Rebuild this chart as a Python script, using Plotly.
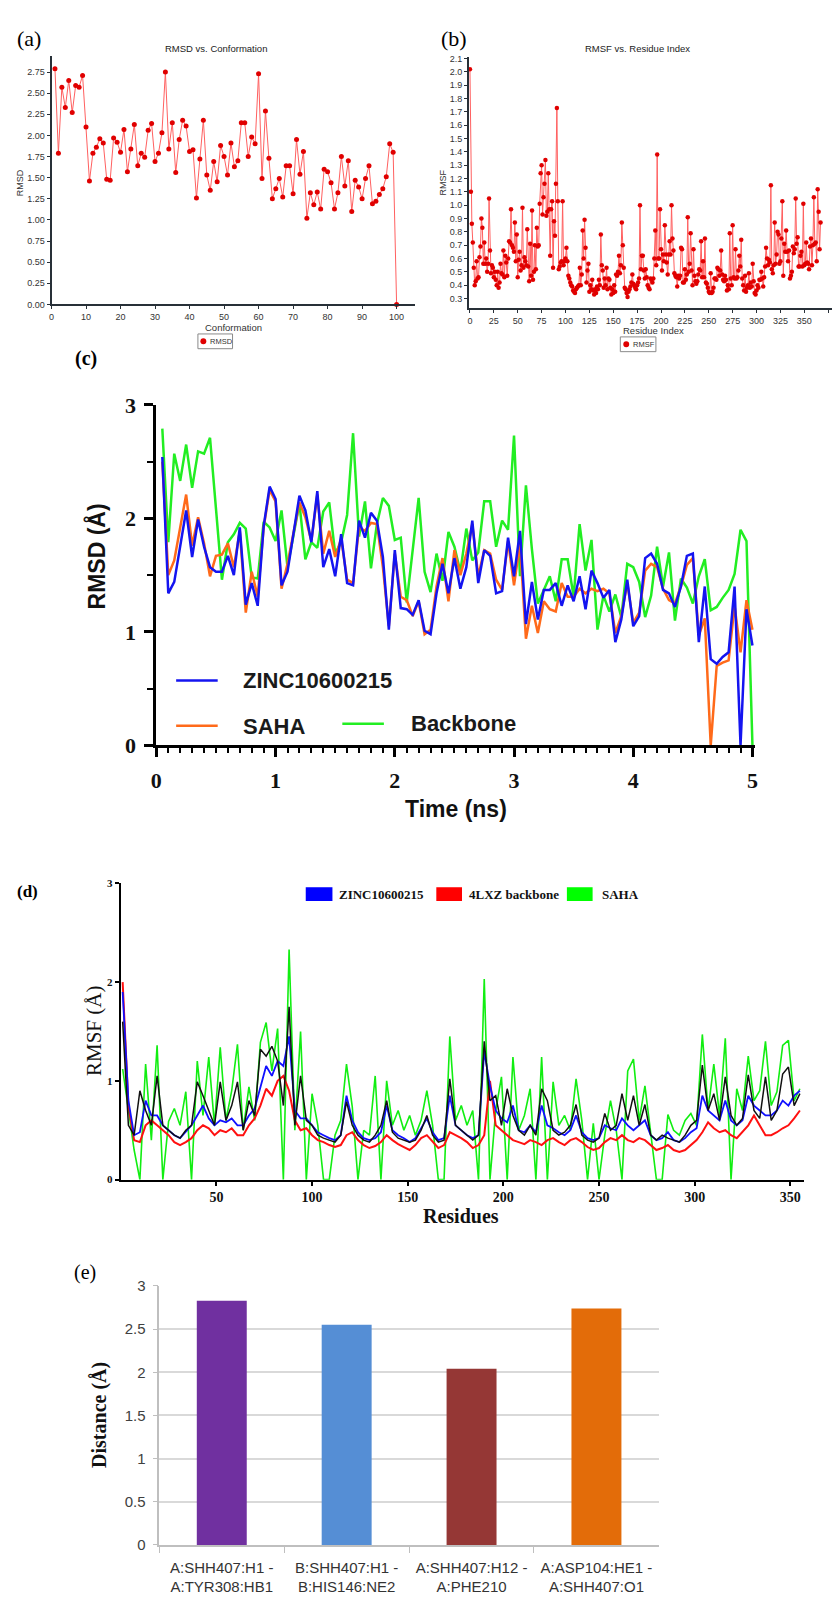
import plotly.graph_objects as go

W, H = 835, 1615
def px(x): return x / W
def py(y): return 1 - y / H

ARIAL = "Liberation Sans, Arial, sans-serif"
TIMES = "Liberation Serif, Times New Roman, serif"

# ---------------- (a) RMSD vs. Conformation ----------------
conformation = list(range(1, 101))
rmsd_conf = [2.79, 1.79, 2.57, 2.33, 2.65, 2.27, 2.59, 2.57, 2.71, 2.10,
             1.46, 1.79, 1.86, 1.96, 1.91, 1.48, 1.47, 1.97, 1.92, 1.80,
             2.07, 1.57, 1.84, 2.13, 1.64, 1.79, 1.74, 2.06, 2.14, 1.69,
             1.79, 2.03, 2.75, 1.84, 2.15, 1.56, 1.95, 2.18, 2.11, 1.81,
             1.83, 1.26, 1.72, 2.18, 1.53, 1.35, 1.69, 1.45, 1.88, 1.75,
             1.53, 1.91, 1.63, 1.70, 2.15, 2.15, 1.75, 1.98, 1.90, 2.73,
             1.49, 2.29, 1.73, 1.25, 1.37, 1.49, 1.27, 1.64, 1.64, 1.31,
             1.95, 1.54, 1.81, 1.02, 1.32, 1.18, 1.33, 1.13, 1.60, 1.57,
             1.44, 1.13, 1.32, 1.75, 1.40, 1.70, 1.10, 1.47, 1.39, 1.25,
             1.49, 1.64, 1.19, 1.22, 1.30, 1.37, 1.51, 1.90, 1.80, 0.00]
conf_ticks = [0, 10, 20, 30, 40, 50, 60, 70, 80, 90, 100]
rmsd_ticks = [0.0, 0.25, 0.5, 0.75, 1.0, 1.25, 1.5, 1.75, 2.0, 2.25, 2.5, 2.75]
rmsd_ticktext = ["0.00", "0.25", "0.50", "0.75", "1.00", "1.25", "1.50", "1.75",
                 "2.00", "2.25", "2.50", "2.75"]

# ---------------- (b) RMSF vs. Residue Index ----------------
residue_idx = list(range(0, 368))
rmsf_res = [2.02, 1.10, 0.86, 0.72, 0.53, 0.40, 0.43, 0.58, 0.45, 0.46,
            0.61, 0.69, 0.90, 0.83, 0.56, 0.72, 0.56, 0.60, 0.50, 0.56,
            1.05, 0.66, 0.49, 0.55, 0.53, 0.46, 0.50, 0.44, 0.40, 0.50,
            0.38, 0.42, 0.56, 0.49, 0.48, 0.66, 0.46, 0.62, 0.57, 0.47,
            0.60, 0.73, 0.72, 0.97, 0.70, 0.68, 0.65, 0.87, 0.58, 0.78,
            0.46, 0.59, 0.65, 0.51, 0.55, 0.98, 0.53, 0.61, 0.58, 0.55,
            0.82, 0.54, 0.43, 0.71, 0.47, 0.96, 0.44, 0.50, 0.70, 0.52,
            0.83, 0.69, 0.70, 1.01, 1.24, 1.30, 0.93, 1.06, 1.16, 1.34,
            0.92, 0.95, 1.24, 0.97, 0.62, 0.97, 1.03, 0.53, 0.88, 0.77,
            1.16, 1.73, 1.03, 0.52, 0.54, 0.57, 0.58, 1.03, 0.55, 0.58,
            0.60, 0.68, 0.58, 0.47, 0.45, 0.42, 0.40, 0.39, 0.36, 0.35,
            0.34, 0.37, 0.38, 0.39, 0.40, 0.53, 0.40, 0.48, 0.81, 0.60,
            0.89, 0.68, 0.42, 0.51, 0.56, 0.35, 0.40, 0.37, 0.44, 0.36,
            0.33, 0.37, 0.34, 0.39, 0.37, 0.44, 0.40, 0.78, 0.55, 0.51,
            0.38, 0.45, 0.40, 0.53, 0.37, 0.45, 0.44, 0.38, 0.33, 0.37,
            0.34, 0.40, 0.35, 0.48, 0.47, 0.50, 0.62, 0.49, 0.55, 0.87,
            0.70, 0.53, 0.38, 0.37, 0.34, 0.31, 0.35, 0.37, 0.39, 0.42,
            0.48, 0.41, 0.40, 0.38, 0.37, 0.40, 0.42, 0.45, 1.00, 0.52,
            0.62, 0.62, 0.51, 0.45, 0.52, 0.46, 0.40, 0.38, 0.37, 0.45,
            0.44, 0.42, 0.45, 0.60, 0.81, 0.55, 1.38, 0.60, 0.60, 0.97,
            0.67, 0.51, 0.63, 0.58, 0.85, 0.63, 0.57, 0.48, 0.63, 0.73,
            0.63, 1.00, 0.75, 0.66, 0.49, 0.47, 0.46, 0.39, 0.47, 0.45,
            0.47, 0.68, 0.67, 0.42, 0.42, 0.52, 0.44, 0.48, 0.91, 0.50,
            0.56, 0.79, 0.51, 0.40, 0.67, 0.47, 0.43, 0.41, 0.43, 0.48,
            0.52, 0.51, 0.73, 0.46, 0.58, 0.46, 0.75, 0.42, 0.41, 0.38,
            0.35, 0.34, 0.49, 0.34, 0.35, 0.38, 0.45, 0.45, 0.44, 0.53,
            0.52, 0.47, 0.51, 0.66, 0.48, 0.44, 0.43, 0.47, 0.44, 0.36,
            0.40, 0.37, 0.79, 0.45, 0.40, 0.85, 0.46, 0.45, 0.67, 0.45,
            0.46, 0.51, 0.62, 0.54, 0.74, 0.45, 0.40, 0.36, 0.47, 0.35,
            0.38, 0.40, 0.49, 0.38, 0.42, 0.39, 0.56, 0.43, 0.34, 0.33,
            0.36, 0.40, 0.38, 0.44, 0.44, 0.50, 0.45, 0.39, 0.46, 0.54,
            0.68, 0.60, 0.55, 0.59, 0.57, 1.15, 0.52, 0.49, 0.55, 0.87,
            0.56, 0.63, 0.80, 0.78, 0.56, 0.58, 0.75, 1.03, 0.47, 0.71,
            0.65, 0.81, 0.65, 0.58, 0.66, 0.45, 0.47, 0.50, 0.69, 0.64,
            0.67, 1.05, 0.71, 0.76, 0.54, 0.54, 0.62, 0.65, 0.54, 1.01,
            0.55, 0.56, 0.72, 0.57, 0.56, 0.52, 0.69, 0.75, 0.55, 0.70,
            1.06, 0.71, 0.72, 0.58, 1.12, 0.95, 0.67, 0.87]
res_ticks = [0, 25, 50, 75, 100, 125, 150, 175, 200, 225, 250, 275, 300, 325, 350, 375]
rmsf_ticks = [0.3, 0.4, 0.5, 0.6, 0.7, 0.8, 0.9, 1.0, 1.1, 1.2, 1.3, 1.4, 1.5, 1.6,
              1.7, 1.8, 1.9, 2.0, 2.1]
rmsf_ticktext = ["0.3", "0.4", "0.5", "0.6", "0.7", "0.8", "0.9", "1.0", "1.1", "1.2",
                 "1.3", "1.4", "1.5", "1.6", "1.7", "1.8", "1.9", "2.0", "2.1"]

# ---------------- (c) RMSD vs time ----------------
time_ns = [round(0.05 * i, 2) for i in range(1, 101)]
rmsd_zinc = [2.54, 1.34, 1.44, 1.75, 2.07, 1.66, 1.99, 1.75, 1.57, 1.53,
             1.53, 1.67, 1.50, 1.92, 1.24, 1.43, 1.23, 1.93, 2.28, 2.17,
             1.41, 1.53, 1.86, 2.20, 2.07, 1.79, 2.24, 1.57, 1.73, 1.49,
             1.86, 1.43, 1.41, 1.98, 1.83, 2.05, 1.98, 1.66, 1.02, 1.72,
             1.21, 1.20, 1.15, 1.28, 1.01, 0.98, 1.34, 1.60, 1.34, 1.65,
             1.38, 1.57, 1.98, 1.43, 1.72, 1.67, 1.34, 1.36, 1.83, 1.49,
             1.89, 1.07, 1.44, 1.11, 1.37, 1.37, 1.43, 1.23, 1.41, 1.27,
             1.49, 1.20, 1.54, 1.43, 1.30, 1.37, 0.91, 1.11, 1.46, 1.05,
             1.14, 1.65, 1.69, 1.60, 1.37, 1.34, 1.22, 1.40, 1.67, 1.69,
             0.91, 1.40, 0.76, 0.72, 0.78, 0.82, 1.40, 0.00, 1.20, 0.88]
rmsd_saha = [2.50, 1.50, 1.63, 1.92, 2.21, 1.76, 2.01, 1.78, 1.49, 1.67,
             1.68, 1.78, 1.57, 1.89, 1.17, 1.53, 1.31, 1.92, 2.25, 2.15,
             1.38, 1.60, 1.88, 2.14, 2.01, 1.80, 2.21, 1.69, 1.89, 1.66,
             1.82, 1.46, 1.43, 1.92, 1.89, 1.96, 1.95, 1.57, 1.05, 1.69,
             1.31, 1.28, 1.14, 1.27, 0.98, 1.02, 1.40, 1.65, 1.27, 1.72,
             1.50, 1.69, 1.95, 1.49, 1.72, 1.69, 1.46, 1.37, 1.80, 1.41,
             1.78, 0.94, 1.23, 0.99, 1.27, 1.20, 1.18, 1.43, 1.31, 1.31,
             1.38, 1.34, 1.38, 1.36, 1.38, 1.34, 0.99, 1.14, 1.43, 1.08,
             1.17, 1.54, 1.60, 1.57, 1.38, 1.28, 1.25, 1.40, 1.59, 1.65,
             0.97, 1.12, 0.00, 0.70, 0.73, 0.75, 1.23, 0.82, 1.28, 1.02]
rmsd_backbone = [2.79, 1.79, 2.57, 2.33, 2.65, 2.27, 2.59, 2.57, 2.71, 2.10,
                 1.46, 1.79, 1.86, 1.96, 1.91, 1.48, 1.47, 1.97, 1.92, 1.80,
                 2.07, 1.57, 1.84, 2.13, 1.64, 1.79, 1.74, 2.06, 2.14, 1.69,
                 1.79, 2.03, 2.75, 1.84, 2.15, 1.56, 1.95, 2.18, 2.11, 1.81,
                 1.83, 1.26, 1.72, 2.18, 1.53, 1.35, 1.69, 1.45, 1.88, 1.75,
                 1.53, 1.91, 1.63, 1.70, 2.15, 2.15, 1.75, 1.98, 1.90, 2.73,
                 1.49, 2.29, 1.73, 1.25, 1.37, 1.49, 1.27, 1.64, 1.64, 1.31,
                 1.95, 1.54, 1.81, 1.02, 1.32, 1.18, 1.33, 1.13, 1.60, 1.57,
                 1.44, 1.13, 1.32, 1.75, 1.40, 1.70, 1.10, 1.47, 1.39, 1.25,
                 1.49, 1.64, 1.19, 1.22, 1.30, 1.37, 1.51, 1.90, 1.80, 0.00]
time_ticks = [0, 1, 2, 3, 4, 5]
rmsd_c_ticks = [0, 1, 2, 3]

# ---------------- (d) RMSF vs residues ----------------
residues_d = list(range(1, 356, 3))
rmsf_saha = [1.12, 0.69, 0.30, 0.00, 1.17, 0.40, 1.36, 0.00, 0.59, 0.72,
             0.55, 0.89, 0.00, 1.20, 0.65, 1.24, 0.55, 1.34, 0.60, 0.90,
             1.37, 0.50, 0.94, 0.60, 1.39, 1.59, 1.10, 1.53, 0.00, 2.33,
             0.50, 1.50, 0.00, 0.87, 0.55, 0.00, 0.00, 0.45, 0.60, 1.17,
             0.74, 0.00, 0.50, 0.45, 1.05, 0.00, 1.00, 0.55, 0.70, 0.50,
             0.65, 0.45, 0.60, 0.90, 0.55, 0.00, 0.00, 1.45, 0.60, 0.75,
             0.55, 0.70, 0.00, 2.03, 0.00, 0.70, 1.04, 0.00, 1.24, 0.50,
             0.65, 0.92, 0.00, 1.24, 0.00, 0.99, 0.55, 0.65, 0.50, 1.02,
             0.60, 0.00, 0.57, 0.00, 0.45, 0.80, 0.50, 0.00, 1.10, 1.22,
             0.60, 0.95, 0.50, 0.00, 0.00, 0.66, 0.50, 0.45, 0.60, 0.67,
             0.55, 1.47, 0.70, 1.17, 0.65, 1.43, 0.00, 0.92, 0.70, 1.25,
             0.80, 0.90, 1.40, 0.75, 0.89, 1.36, 1.41, 0.80, 0.92]
rmsf_backbone = [2.00, 0.75, 0.40, 0.38, 0.55, 0.60, 0.55, 0.50, 0.45, 0.38,
                 0.35, 0.38, 0.42, 0.50, 0.55, 0.52, 0.45, 0.50, 0.48, 0.52,
                 0.45, 0.45, 0.55, 0.62, 0.75, 0.92, 0.85, 1.00, 1.05, 0.90,
                 0.60, 0.50, 0.52, 0.45, 0.40, 0.38, 0.35, 0.33, 0.35, 0.45,
                 0.48, 0.40, 0.35, 0.32, 0.34, 0.38, 0.45, 0.40, 0.36, 0.33,
                 0.30, 0.35, 0.42, 0.45, 0.38, 0.32, 0.35, 0.48, 0.45, 0.42,
                 0.38, 0.32, 0.35, 0.45, 1.00, 0.55, 0.50, 0.45, 0.40, 0.38,
                 0.36, 0.40, 0.38, 0.35, 0.40, 0.42, 0.38, 0.35, 0.40, 0.42,
                 0.38, 0.33, 0.30, 0.32, 0.38, 0.42, 0.40, 0.45, 0.40, 0.38,
                 0.42, 0.40, 0.35, 0.30, 0.32, 0.35, 0.30, 0.28, 0.30, 0.35,
                 0.40, 0.48, 0.58, 0.52, 0.48, 0.50, 0.45, 0.42, 0.48, 0.55,
                 0.65, 0.55, 0.45, 0.45, 0.48, 0.52, 0.55, 0.62, 0.70]
rmsf_zinc = [1.90, 0.80, 0.45, 0.48, 0.80, 0.65, 0.65, 0.55, 0.50, 0.45,
             0.42, 0.48, 0.55, 0.65, 0.75, 0.62, 0.55, 0.60, 0.58, 0.62,
             0.55, 0.55, 0.65, 0.72, 0.95, 1.15, 1.05, 1.20, 1.15, 1.45,
             0.70, 0.62, 0.62, 0.55, 0.48, 0.45, 0.42, 0.40, 0.45, 0.85,
             0.60, 0.48, 0.42, 0.40, 0.42, 0.48, 0.75, 0.50, 0.45, 0.42,
             0.38, 0.42, 0.52, 0.62, 0.48, 0.40, 0.42, 0.85, 0.55, 0.50,
             0.45, 0.42, 0.45, 1.30, 0.95, 0.70, 0.62, 0.58, 0.75, 0.50,
             0.48, 0.55, 0.48, 0.75, 0.55, 0.52, 0.48, 0.45, 0.50, 0.65,
             0.48, 0.42, 0.40, 0.42, 0.55, 0.52, 0.50, 0.62, 0.55, 0.50,
             0.55, 0.60, 0.45, 0.40, 0.42, 0.48, 0.40, 0.38, 0.42, 0.48,
             0.52, 0.85, 0.70, 0.65, 0.60, 0.80, 0.60, 0.55, 0.60, 0.85,
             0.75, 0.70, 0.65, 0.65, 0.70, 0.80, 0.75, 0.85, 0.90]
rmsf_black = [1.60, 0.55, 0.45, 0.90, 0.70, 0.55, 1.05, 0.55, 0.50, 0.45,
              0.42, 0.50, 0.55, 0.99, 0.85, 0.70, 0.55, 0.99, 0.60, 0.75,
              0.99, 0.50, 0.80, 0.65, 1.32, 1.25, 1.35, 1.20, 0.75, 1.75,
              0.55, 1.05, 0.60, 0.55, 0.45, 0.42, 0.40, 0.38, 0.45, 0.79,
              0.55, 0.45, 0.40, 0.38, 0.45, 0.55, 0.80, 0.48, 0.42, 0.40,
              0.38, 0.40, 0.50, 0.65, 0.45, 0.38, 0.40, 1.02, 0.55, 0.50,
              0.45, 0.40, 0.45, 1.40, 0.80, 0.85, 0.55, 0.92, 0.65, 0.50,
              0.45, 0.55, 0.45, 0.92, 0.80, 0.50, 0.45, 0.48, 0.55, 0.76,
              0.45, 0.40, 0.38, 0.42, 0.67, 0.50, 0.55, 0.87, 0.60, 0.85,
              0.55, 0.76, 0.45, 0.40, 0.45, 0.42, 0.40, 0.38, 0.45, 0.55,
              0.60, 1.16, 0.70, 0.87, 0.60, 1.04, 0.65, 0.55, 0.62, 1.06,
              0.70, 0.62, 1.04, 0.60, 0.70, 1.07, 1.14, 0.75, 0.87]
res_d_ticks = [50, 100, 150, 200, 250, 300, 350]
rmsf_d_ticks = [0, 1, 2, 3]

# ---------------- (e) distances ----------------
hbond_labels = ["A:SHH407:H1 -<br>A:TYR308:HB1", "B:SHH407:H1 -<br>B:HIS146:NE2",
                "A:SHH407:H12 -<br>A:PHE210", "A:ASP104:HE1 -<br>A:SHH407:O1"]
hbond_dist = [2.83, 2.55, 2.04, 2.74]
bar_colors = ["#7030a0", "#558ed5", "#953735", "#e36c09"]
dist_ticks = [0, 0.5, 1, 1.5, 2, 2.5, 3]
dist_ticktext = ["0", "0.5", "1", "1.5", "2", "2.5", "3"]

fig = go.Figure()

# (a)
fig.add_trace(go.Scatter(x=conformation, y=rmsd_conf, mode="lines+markers",
                         line=dict(color="#ff6060", width=1),
                         marker=dict(color="#e00000", size=5),
                         cliponaxis=False, showlegend=False, xaxis="x", yaxis="y"))
# (b)
fig.add_trace(go.Scatter(x=residue_idx, y=rmsf_res, mode="lines+markers",
                         line=dict(color="#ff6060", width=1),
                         marker=dict(color="#e00000", size=4.5),
                         cliponaxis=False, showlegend=False, xaxis="x2", yaxis="y2"))
# (c)
fig.add_trace(go.Scatter(x=time_ns, y=rmsd_backbone, mode="lines", name="Backbone",
                         line=dict(color="#22ee22", width=2.5), showlegend=False,
                         xaxis="x3", yaxis="y3"))
fig.add_trace(go.Scatter(x=time_ns, y=rmsd_saha, mode="lines", name="SAHA",
                         line=dict(color="#ff6a1a", width=2.5), showlegend=False,
                         xaxis="x3", yaxis="y3"))
fig.add_trace(go.Scatter(x=time_ns, y=rmsd_zinc, mode="lines", name="ZINC10600215",
                         line=dict(color="#1414f0", width=2.5), showlegend=False,
                         xaxis="x3", yaxis="y3"))
# (d)
fig.add_trace(go.Scatter(x=residues_d, y=rmsf_saha, mode="lines", name="SAHA",
                         line=dict(color="#11ee11", width=1.6), showlegend=False,
                         xaxis="x4", yaxis="y4"))
fig.add_trace(go.Scatter(x=residues_d, y=rmsf_backbone, mode="lines", name="4LXZ backbone",
                         line=dict(color="#ff1010", width=2), showlegend=False,
                         xaxis="x4", yaxis="y4"))
fig.add_trace(go.Scatter(x=residues_d, y=rmsf_zinc, mode="lines", name="ZINC10600215",
                         line=dict(color="#1010ff", width=1.8), showlegend=False,
                         xaxis="x4", yaxis="y4"))
fig.add_trace(go.Scatter(x=residues_d, y=rmsf_black, mode="lines", name="other",
                         line=dict(color="#111111", width=1.5), showlegend=False,
                         xaxis="x4", yaxis="y4"))
# (e)
fig.add_trace(go.Bar(x=hbond_labels, y=hbond_dist, marker=dict(color=bar_colors, line=dict(width=0)),
                     width=0.4, showlegend=False, xaxis="x5", yaxis="y5"))

ab_axis = dict(showgrid=False, zeroline=False, showline=True, linecolor="#283038",
               linewidth=2, ticks="outside", ticklen=3, tickcolor="#283038",
               tickfont=dict(family=ARIAL, size=9, color="#333333"))
c_axis = dict(showgrid=False, zeroline=False, showline=True, linecolor="#000000",
              linewidth=3, ticks="outside", ticklen=9, tickwidth=3, tickcolor="#000000",
              tickfont=dict(family=TIMES, size=22, color="#111111", weight="bold"))
d_axis = dict(showgrid=False, zeroline=False, showline=True, linecolor="#000000",
              linewidth=2, ticks="outside", ticklen=4, tickwidth=1.5, tickcolor="#000000",
              tickfont=dict(family=TIMES, size=14, color="#111111", weight="bold"))

fig.update_layout(
    width=W, height=H, autosize=False,
    margin=dict(l=0, r=0, t=0, b=0),
    paper_bgcolor="white", plot_bgcolor="white",
    showlegend=False,
    xaxis=dict(ab_axis, domain=[px(46), px(413)], range=[0, 105.2], tickvals=conf_ticks,
               anchor="y"),
    yaxis=dict(ab_axis, domain=[py(297), py(45)], range=[0, 2.936], tickvals=rmsd_ticks,
               ticktext=rmsd_ticktext, anchor="x"),
    xaxis2=dict(ab_axis, domain=[px(468), 1.0], range=[-1.04, 379], tickvals=res_ticks,
                anchor="y2"),
    yaxis2=dict(ab_axis, domain=[py(300.7), py(46)], range=[0.228, 2.11],
                tickvals=rmsf_ticks, ticktext=rmsf_ticktext, anchor="x2"),
    xaxis3=dict(c_axis, domain=[px(152), px(757)], range=[0, 5.02], tickvals=time_ticks,
                minor=dict(dtick=0.1, tick0=0, ticks="outside", ticklen=5, tickwidth=2,
                           tickcolor="#000000"),
                ticklabelstandoff=4, anchor="y3"),
    yaxis3=dict(c_axis, domain=[py(745), py(399)], range=[0, 3], tickvals=rmsd_c_ticks,
                minor=dict(dtick=0.5, tick0=0, ticks="outside", ticklen=6, tickwidth=2,
                           tickcolor="#000000"),
                ticklabelstandoff=4, anchor="x3"),
    xaxis4=dict(d_axis, domain=[px(116), px(807)], range=[0, 357.3], tickvals=res_d_ticks,
                anchor="y4"),
    yaxis4=dict(d_axis, domain=[py(1186), py(885)], range=[0, 3], tickvals=rmsf_d_ticks,
                tickfont=dict(family=TIMES, size=11, color="#111111", weight="bold"),
                anchor="x4"),
    xaxis5=dict(domain=[px(155), px(660)], type="category", showgrid=False, zeroline=False,
                showline=True, linecolor="#bfbfbf", linewidth=1.5, ticks="outside",
                tickson="boundaries", ticklen=6, tickcolor="#bfbfbf",
                tickfont=dict(family=ARIAL, size=15, color="#333333"),
                ticklabelstandoff=8, anchor="y5"),
    yaxis5=dict(domain=[py(1557), py(1294)], range=[0, 3], tickvals=dist_ticks,
                ticktext=dist_ticktext, showgrid=True, gridcolor="#d9d9d9", gridwidth=1.5,
                zeroline=False, showline=True, linecolor="#bfbfbf", linewidth=1.5,
                ticks="outside", ticklen=5, tickcolor="#bfbfbf",
                tickfont=dict(family=ARIAL, size=15, color="#404040"),
                ticklabelstandoff=4, anchor="x5"),
)

annotations = []
def ann(text, x, y, size, family, color="#000000", weight="normal", angle=0,
        xanchor="center", yanchor="middle"):
    annotations.append(dict(text=text, x=px(x), y=py(y), xref="paper", yref="paper",
                            showarrow=False, textangle=angle, xanchor=xanchor,
                            yanchor=yanchor,
                            font=dict(family=family, size=size, color=color, weight=weight)))

# panel labels
ann("(a)", 23, 27, 22, TIMES)
ann("(b)", 453, 27, 22, TIMES)
ann("(c)", 81, 352, 20, TIMES, weight="bold")
ann("(d)", 22, 893, 17, TIMES, weight="bold")
ann("(e)", 80, 1280, 20, TIMES)

# (a) texts
ann("RMSD vs. Conformation", 212, 37, 9.5, ARIAL, color="#222222")
ann("Conformation", 230, 320, 9.5, ARIAL, color="#333333")
ann("RMSD", 14, 173, 9, ARIAL, color="#333333", angle=-90)
ann("RMSD", 204, 334.5, 7.5, ARIAL, color="#333333", xanchor="left")
# (b) texts
ann("RMSF vs. Residue Index", 638, 37, 9.5, ARIAL, color="#222222")
ann("Residue Index", 655, 324, 9.5, ARIAL, color="#333333")
ann("RMSF", 442, 173, 9, ARIAL, color="#333333", angle=-90)
ann("RMSF", 632, 337.5, 7.5, ARIAL, color="#333333", xanchor="left")
# (c) texts
ann("Time (ns)", 455, 810, 23, ARIAL, color="#111111", weight="bold")
ann("RMSD (Å)", 91, 553, 23, ARIAL, color="#111111", weight="bold", angle=-90)
ann("ZINC10600215", 238, 679, 22, ARIAL, color="#1a1a1a", weight="bold", xanchor="left")
ann("SAHA", 238, 726, 22, ARIAL, color="#1a1a1a", weight="bold", xanchor="left")
ann("Backbone", 407, 723, 22, ARIAL, color="#1a1a1a", weight="bold", xanchor="left")
# (d) texts
ann("Residues", 460, 1223, 20, TIMES, color="#111111", weight="bold")
ann("RMSF (Å)", 89, 1035, 21, TIMES, color="#111111", angle=-90)
ann("ZINC10600215", 335, 896, 13, TIMES, color="#111111", weight="bold", xanchor="left")
ann("4LXZ backbone", 466, 896, 13, TIMES, color="#111111", weight="bold", xanchor="left")
ann("SAHA", 600, 896, 13, TIMES, color="#111111", weight="bold", xanchor="left")
# (e) texts
ann("Distance (Å)", 95, 1425, 20, TIMES, color="#111111", weight="bold", angle=-90)

shapes = []
def rect(x0, y0, x1, y1, fill, line="rgba(0,0,0,0)", lw=0):
    shapes.append(dict(type="rect", xref="paper", yref="paper", x0=px(x0), x1=px(x1),
                       y0=py(y1), y1=py(y0), fillcolor=fill, line=dict(color=line, width=lw)))
def seg(x0, y0, x1, y1, color, lw):
    shapes.append(dict(type="line", xref="paper", yref="paper", x0=px(x0), x1=px(x1),
                       y0=py(y0), y1=py(y1), line=dict(color=color, width=lw)))
def dot(cx, cy, r, color):
    shapes.append(dict(type="circle", xref="paper", yref="paper", x0=px(cx - r), x1=px(cx + r),
                       y0=py(cy + r), y1=py(cy - r), fillcolor=color, line=dict(width=0)))

# legends (a), (b)
rect(194, 327, 229, 342, "white", "#8a8a8a", 1)
dot(199.5, 334.5, 3, "#e00000")
rect(621, 330, 657, 345, "white", "#8a8a8a", 1)
dot(627, 337.5, 3, "#e00000")
# legend (c)
seg(172, 679, 214, 679, "#1414f0", 2.5)
seg(172, 725, 214, 725, "#ff6a1a", 2.5)
seg(340, 723, 382, 723, "#22ee22", 2.5)
# legend (d)
rect(303, 889, 330, 903, "#0000ff")
rect(435, 889, 461, 903, "#ff0000")
rect(567, 889, 593, 903, "#00ff00")

fig.update_layout(annotations=annotations, shapes=shapes)

fig.write_html("out.html", config={"displayModeBar": False},
               post_script="document.body.style.margin='0px';document.body.style.overflow='hidden';")
